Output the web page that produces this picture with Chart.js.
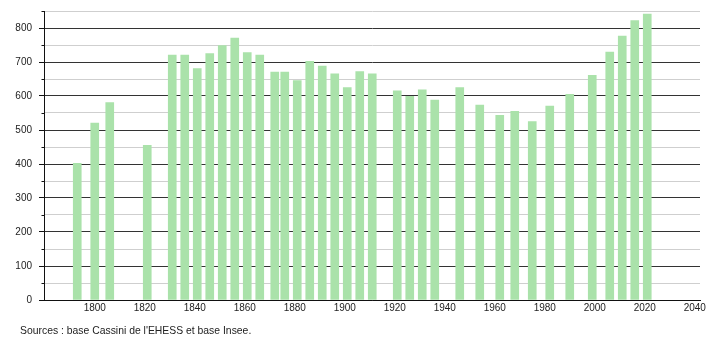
<!DOCTYPE html>
<html>
<head>
<meta charset="utf-8">
<script src="https://cdn.jsdelivr.net/npm/chart.js@4"></script>
<style>
html,body{margin:0;padding:0;background:#fff;}
#wrap{width:710px;height:340px;position:relative;}
</style>
</head>
<body>
<div id="wrap"><canvas id="c" width="710" height="340"></canvas></div>
<script>
const years = [1793,1800,1806,1821,1831,1836,1841,1846,1851,1856,1861,1866,1872,1876,1881,1886,1891,1896,1901,1906,1911,1921,1926,1931,1936,1946,1954,1962,1968,1975,1982,1990,1999,2006,2011,2016,2021];
const population = [402,520,581,455,720,720,681,725,748,770,728,720,670,670,645,702,688,665,625,672,665,615,599,618,588,625,573,543,555,525,570,605,661,729,776,822,841];
const xTickLabels = [1800,1820,1840,1860,1880,1900,1920,1940,1960,1980,2000,2020,2040];
const yTickLabels = [0,100,200,300,400,500,600,700,800];
const sourceText = "Sources : base Cassini de l'EHESS et base Insee.";

const FONT = 'Liberation Sans, Arial, Helvetica, sans-serif';

const extras = {
  id: 'extras',
  afterDatasetsDraw(chart) {
    const ctx = chart.ctx;
    const y = chart.scales.y;
    ctx.save();
    ctx.strokeStyle = '#111';
    ctx.lineWidth = 1;
    y.ticks.forEach(t => {
      if (t.value % 100 !== 0) {
        const py = Math.round(y.getPixelForValue(t.value)) + 0.5;
        ctx.beginPath();
        ctx.moveTo(chart.chartArea.left - 2.5, py);
        ctx.lineTo(chart.chartArea.left, py);
        ctx.stroke();
      }
    });
    ctx.restore();
  },
  afterDraw(chart) {
    const ctx = chart.ctx;
    ctx.save();
    ctx.font = '10.4px ' + FONT;
    ctx.fillStyle = '#222';
    ctx.textBaseline = 'alphabetic';
    ctx.textAlign = 'left';
    ctx.fillText(sourceText, 20, 334);
    ctx.restore();
  }
};

new Chart(document.getElementById('c'), {
  type: 'bar',
  data: {
    datasets: [{
      data: years.map((yr, i) => ({x: yr, y: population[i]})),
      backgroundColor: 'rgb(170,226,170)',
      borderWidth: 0,
      barThickness: 8
    }]
  },
  options: {
    responsive: false,
    animation: false,
    devicePixelRatio: 1,
    layout: {padding: {left: 0, right: 10, top: 11, bottom: 24}},
    plugins: {legend: {display: false}, tooltip: {enabled: false}, title: {display: false}},
    scales: {
      x: {
        type: 'linear',
        offset: false,
        min: 1779.7,
        max: 2042.1,
        grid: {display: false, drawTicks: false, offset: false},
        border: {display: true, color: '#111', width: 1},
        afterBuildTicks: s => { s.ticks = xTickLabels.map(v => ({value: v})); },
        ticks: {
          autoSkip: false,
          maxRotation: 0,
          padding: 2,
          color: '#222',
          font: {family: FONT, size: 10},
          callback: v => String(v)
        },
        afterFit: s => { s.height = 16; s.paddingLeft = 0; s.paddingRight = 0; }
      },
      y: {
        type: 'linear',
        min: 0,
        max: 850,
        afterBuildTicks: s => { const t = []; for (let v = 0; v <= 850; v += 50) t.push({value: v}); s.ticks = t; },
        grid: {
          color: c => (c.tick && c.tick.value % 100 === 0) ? '#333' : '#cfcfcf',
          tickColor: c => (c.tick && c.tick.value % 100 === 0) ? '#111' : 'rgba(0,0,0,0)',
          tickLength: 5,
          lineWidth: 1
        },
        border: {display: true, color: '#111', width: 1},
        ticks: {
          autoSkip: false,
          padding: 7,
          color: '#222',
          font: {family: FONT, size: 10},
          callback: v => yTickLabels.includes(v) ? String(v) : ''
        },
        afterFit: s => { s.width = 44; s.paddingTop = 0; s.paddingBottom = 0; }
      }
    }
  },
  plugins: [extras]
});
</script>
</body>
</html>
